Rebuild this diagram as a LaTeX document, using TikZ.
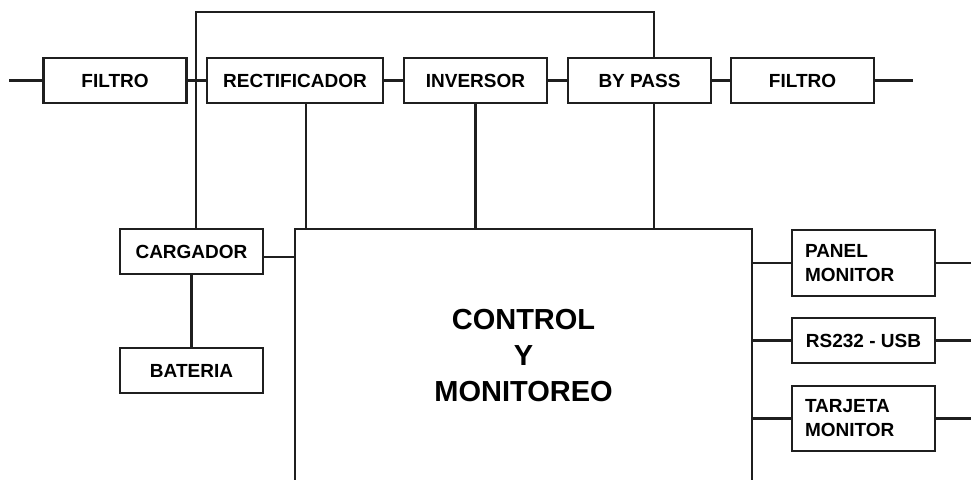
\documentclass[tikz,border=0pt]{standalone}
\usepackage{fontspec}
\setmainfont{Liberation Sans}
\usetikzlibrary{positioning}

\begin{document}
\begin{tikzpicture}[
    x=1pt, y=-1pt,
    block/.style={rectangle, draw=black!88, line width=2.5pt, minimum width=143pt, minimum height=45pt, inner sep=0pt, font=\bfseries\fontsize{19}{24}\selectfont},
    twoline/.style={block, minimum height=66pt, text width=117pt, align=left},
    every edge/.style={draw=black!88, line width=2.5pt}
]
\clip (0,0) rectangle (971,479);
% Power path
\node[block] (filtroIn) at (115, 80.5) {FILTRO};
\node[block, minimum width=176pt] (rect) at (295, 80.5) {RECTIFICADOR};
\node[block] (inv) at (475.5, 80.5) {INVERSOR};
\node[block] (bypass) at (639.5, 80.5) {BY PASS};
\node[block] (filtroOut) at (802.5, 80.5) {FILTRO};
% Battery side
\node[block] (carg) at (191.5, 251.5) {CARGADOR};
\node[block] (bat) at (191.5, 370.5) {BATERIA};
% Control unit (open at the bottom)
\node[draw=black!88, line width=2.5pt, minimum width=457pt, minimum height=254pt, align=center, font=\bfseries\fontsize{29}{36}\selectfont] (ctrl) at (523.5, 356) {CONTROL\\Y\\MONITOREO};
% Interfaces
\node[twoline] (panel) at (863.5, 263) {PANEL\\MONITOR};
\node[block] (rs) at (863.5, 340.5) {RS232 - USB};
\node[twoline, minimum height=65pt] (tarj) at (863.5, 418.5) {TARJETA\\MONITOR};
% Free ends
\coordinate (in) at (9, 80.5);
\coordinate (out) at (913, 80.5);
\coordinate (top) at (0, 12);
\coordinate (cargUp) at ([xshift=4.5pt]carg.north);
\coordinate (cargR) at ([yshift=-5.5pt]carg.east);
\coordinate (rectDn) at ([xshift=11pt]rect.south);
\coordinate (bypUp) at ([xshift=14.5pt]bypass.north);
\coordinate (bypDn) at ([xshift=14.5pt]bypass.south);
\coordinate (panelR) at (971, 263);
\coordinate (rsR) at (971, 340.5);
\coordinate (tarjR) at (971, 418.5);
% Edges along the power path
\path (in) edge (filtroIn.west);
\path (filtroIn) edge (rect);
\path (rect) edge (inv);
\path (inv) edge (bypass);
\path (bypass) edge (filtroOut);
\path (filtroOut.east) edge (out);
% Loop over the top
\draw[line width=2.5pt, draw=black!88] (cargUp) |- (top -| bypUp) -- (bypUp);
% Edges to the control unit
\path (rectDn) edge (rectDn |- ctrl.north);
\path (inv.south) edge (inv.south |- ctrl.north);
\path (bypDn) edge (bypDn |- ctrl.north);
\path (cargR) edge (cargR -| ctrl.west);
\path (carg) edge (bat);
\path (panel.west -| ctrl.east) edge (panel.west);
\path (rs.west -| ctrl.east) edge (rs.west);
\path (tarj.west -| ctrl.east) edge (tarj.west);
\path (panel.east) edge (panelR);
\path (rs.east) edge (rsR);
\path (tarj.east) edge (tarjR);
\end{tikzpicture}
\end{document}
